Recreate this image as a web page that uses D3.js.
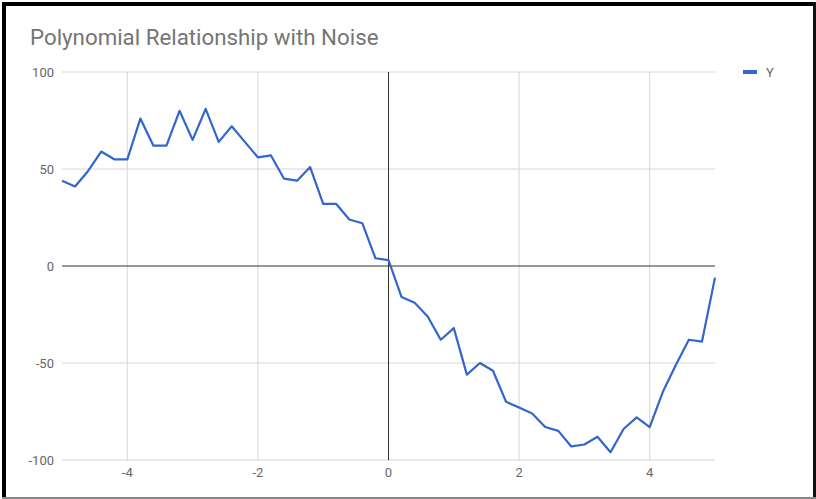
<!DOCTYPE html>
<html><head><meta charset="utf-8">
<script src="https://cdn.jsdelivr.net/npm/d3@7"></script>
<style>body{margin:0;background:#fff;}svg{display:block;font-family:Roboto,Arial,sans-serif;}</style>
</head><body>
<svg id="chart" width="816" height="499"></svg>
<script>
const title = "Polynomial Relationship with Noise";
const seriesName = "Y";
const xValues = [-5,-4.8,-4.6,-4.4,-4.2,-4,-3.8,-3.6,-3.4,-3.2,-3,-2.8,-2.6,-2.4,-2.2,-2,-1.8,-1.6,-1.4,-1.2,-1,-0.8,-0.6,-0.4,-0.2,0,0.2,0.4,0.6,0.8,1,1.2,1.4,1.6,1.8,2,2.2,2.4,2.6,2.8,3,3.2,3.4,3.6,3.8,4,4.2,4.4,4.6,4.8,5];
const yValues = [44,41,49,59,55,55,76,62,62,80,65,81,64,72,64,56,57,45,44,51,32,32,24,22,4,3,-16,-19,-26,-38,-32,-56,-50,-54,-70,-73,-76,-83,-85,-93,-92,-88,-96,-84,-78,-83,-65,-51,-38,-39,-6];
const xTicks = [-4,-2,0,2,4];
const yTicks = [-100,-50,0,50,100];

const svg = d3.select("#chart");
const x = d3.scaleLinear().domain([-5,5]).range([62,715]);
const y = d3.scaleLinear().domain([-100,100]).range([460,72]);

// frame
svg.append("rect").attr("x",2).attr("y",2).attr("width",4).attr("height",497).attr("fill","#000");
svg.append("rect").attr("x",2).attr("y",2).attr("width",814).attr("height",4).attr("fill","#000");
svg.append("rect").attr("x",813).attr("y",2).attr("width",3).attr("height",497).attr("fill","#111");
svg.append("rect").attr("x",2).attr("y",497).attr("width",814).attr("height",2).attr("fill","#888");

svg.append("text").attr("x",30).attr("y",45).attr("fill","#757575")
  .attr("font-size",22.3).text(title);

// gridlines
const g = svg.append("g");
g.selectAll(".hg").data(yTicks.filter(d=>d!==0)).join("line")
  .attr("x1",62).attr("x2",715).attr("y1",d=>y(d)).attr("y2",d=>y(d))
  .attr("stroke","#d6d6d6").attr("stroke-width",1);
g.selectAll(".vg").data(xTicks.filter(d=>d!==0)).join("line")
  .attr("y1",72).attr("y2",460).attr("x1",d=>x(d)).attr("x2",d=>x(d))
  .attr("stroke","#d6d6d6").attr("stroke-width",1);
g.append("line").attr("x1",62).attr("x2",715).attr("y1",y(0)).attr("y2",y(0)).attr("stroke","#333").attr("stroke-width",1);
g.append("line").attr("y1",72).attr("y2",460).attr("x1",x(0)).attr("x2",x(0)).attr("stroke","#333").attr("stroke-width",1);

// axis labels
svg.selectAll(".yl").data(yTicks).join("text")
  .attr("x",54).attr("y",d=>y(d)+4.5).attr("text-anchor","end")
  .attr("font-size",13).attr("fill","#666").text(d=>d);
svg.selectAll(".xl").data(xTicks).join("text")
  .attr("x",d=>x(d)).attr("y",477).attr("text-anchor","middle")
  .attr("font-size",13).attr("fill","#666").text(d=>d);

// line
const line = d3.line().x((d,i)=>x(xValues[i])).y(d=>y(d));
svg.append("path").datum(yValues).attr("d",line).attr("fill","none")
  .attr("stroke","#3366cc").attr("stroke-width",2.2).attr("stroke-linejoin","round");

// legend
svg.append("rect").attr("x",743).attr("y",70).attr("width",14).attr("height",4).attr("fill","#3366cc");
svg.append("text").attr("x",766).attr("y",76.5).attr("font-size",13).attr("fill","#666").text(seriesName);
</script>
</body></html>
